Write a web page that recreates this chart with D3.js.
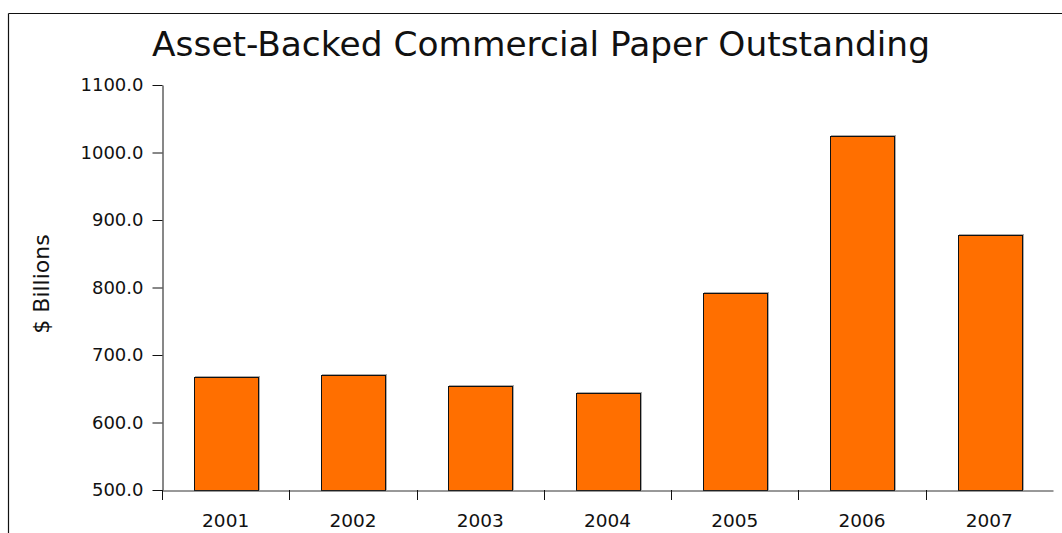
<!DOCTYPE html>
<html>
<head>
<meta charset="utf-8">
<script src="https://cdn.jsdelivr.net/npm/d3@7"></script>
<style>
  html, body { margin: 0; padding: 0; background: #fff; }
  svg { display: block; font-family: "DejaVu Sans", sans-serif; }
</style>
</head>
<body>
<svg id="chart" width="1062" height="533"></svg>
<script>
const years = ["2001", "2002", "2003", "2004", "2005", "2006", "2007"];
const outstanding = [667.9, 670.8, 654.0, 643.7, 791.4, 1024.4, 877.8];
const yTickValues = [500, 600, 700, 800, 900, 1000, 1100];
const titleText = "Asset-Backed Commercial Paper Outstanding";
const yLabelText = "$ Billions";

const svg = d3.select("#chart");
const plot = { left: 162, right: 1053, top: 85, bottom: 490 };

// frame
svg.append("line").attr("x1", 8.5).attr("x2", 1062).attr("y1", 13.5).attr("y2", 13.5)
  .attr("stroke", "#111").attr("stroke-width", 1.2);
svg.append("line").attr("x1", 8.5).attr("x2", 8.5).attr("y1", 13.5).attr("y2", 533)
  .attr("stroke", "#111").attr("stroke-width", 1.2);

const x = d3.scaleBand().domain(years).range([plot.left, plot.right]).padding(0);
const y = d3.scaleLinear().domain([500, 1100]).range([plot.bottom, plot.top]);

const data = years.map((yr, i) => ({ year: yr, value: outstanding[i] }));
const bw = x.bandwidth() * 0.5;

// shadows
svg.append("g").selectAll("rect").data(data).join("rect")
  .attr("x", d => Math.round(x(d.year) + x.bandwidth() / 2 - bw / 2) + 1.5)
  .attr("y", d => Math.round(y(d.value)) - 0.5)
  .attr("width", Math.round(bw))
  .attr("height", d => Math.round(y(500)) - Math.round(y(d.value)))
  .attr("fill", "none").attr("stroke", "#aaa").attr("stroke-width", 1);

// bars
svg.append("g").selectAll("rect").data(data).join("rect")
  .attr("x", d => Math.round(x(d.year) + x.bandwidth() / 2 - bw / 2) + 0.5)
  .attr("y", d => Math.round(y(d.value)) + 0.5)
  .attr("width", Math.round(bw))
  .attr("height", d => Math.round(y(500)) - Math.round(y(d.value)))
  .attr("fill", "#ff6f00").attr("stroke", "#111").attr("stroke-width", 1);

// y axis
const yAxis = d3.axisLeft(y).tickValues(yTickValues).tickFormat(d3.format(".1f"))
  .tickSize(10).tickPadding(9).tickSizeOuter(0);
const gy = svg.append("g").attr("transform", `translate(${plot.left + 0.5},0)`).call(yAxis);
gy.selectAll("text").attr("font-size", 18).attr("fill", "#111").attr("font-family", "DejaVu Sans");
gy.selectAll("line, path").attr("stroke", "#111");

// x axis
const xAxis = d3.axisBottom(x).tickSize(0).tickSizeOuter(0).tickPadding(23);
const gx = svg.append("g").attr("transform", `translate(0,${plot.bottom + 0.5})`).call(xAxis);
gx.selectAll("text").attr("font-size", 18.5).attr("fill", "#111").attr("font-family", "DejaVu Sans");
gx.selectAll("path").attr("stroke", "#333");
// boundary ticks between categories
svg.append("g").selectAll("line").data(years).join("line")
  .attr("x1", d => Math.round(x(d)) + 0.5).attr("x2", d => Math.round(x(d)) + 0.5)
  .attr("y1", plot.bottom).attr("y2", plot.bottom + 10)
  .attr("stroke", "#111");

// title
svg.append("text").attr("x", 541).attr("y", 56).attr("text-anchor", "middle")
  .attr("font-size", 34.4).attr("fill", "#111").text(titleText);

// y label
svg.append("text").attr("transform", "translate(49,284) rotate(-90)")
  .attr("text-anchor", "middle").attr("font-size", 22).attr("fill", "#111").text(yLabelText);
</script>
</body>
</html>
